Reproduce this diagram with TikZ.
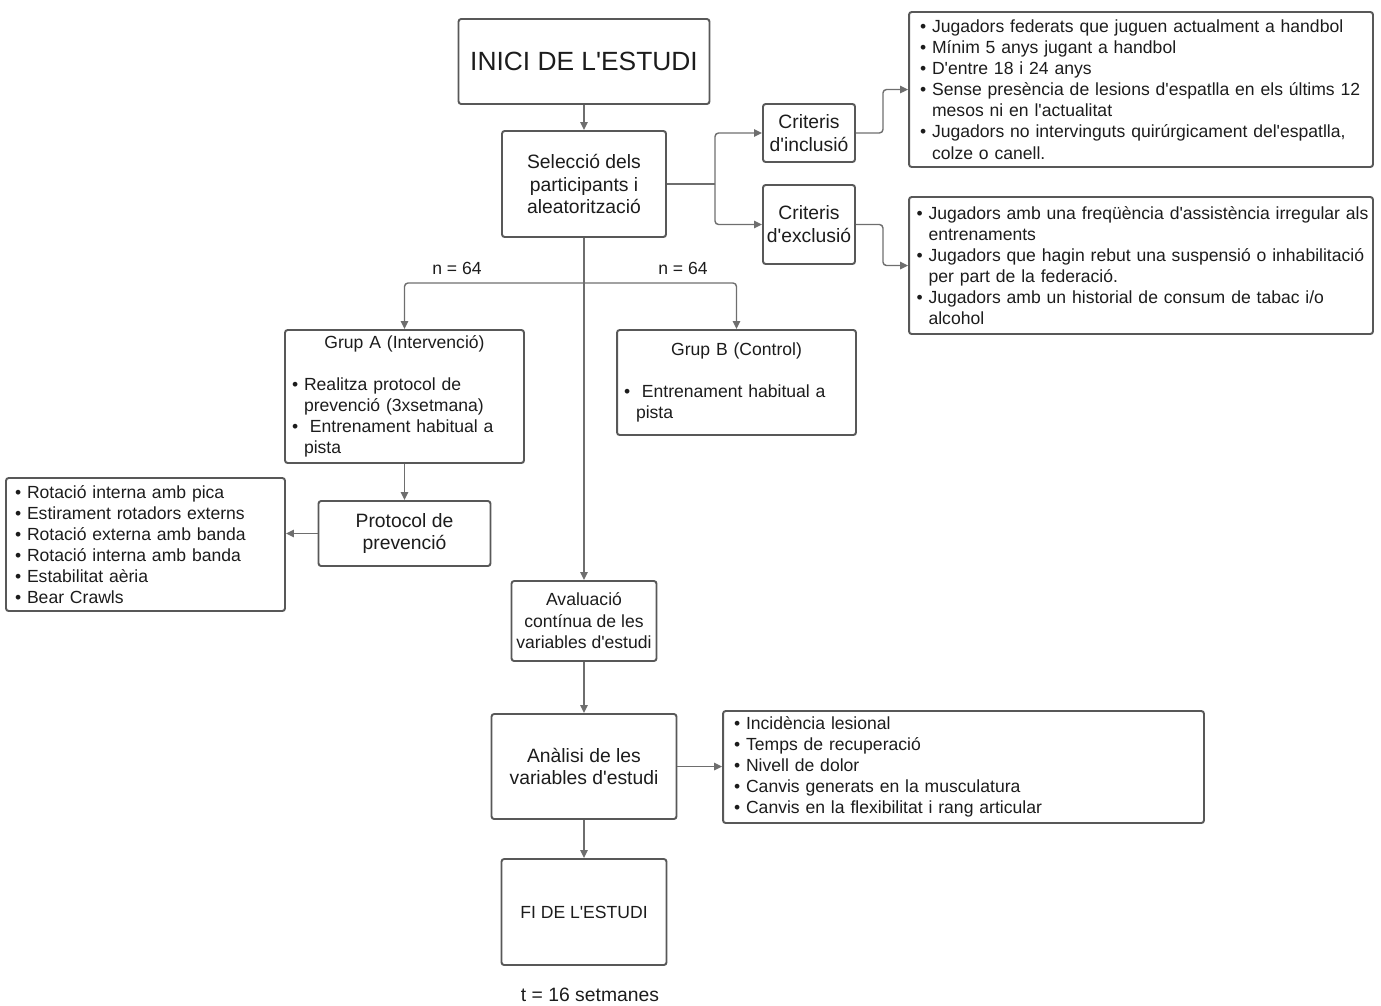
\documentclass[tikz,border=0pt]{standalone}
\usepackage{fontspec}
\setmainfont{Liberation Sans}[Ligatures=TeXOff]
\usetikzlibrary{arrows.meta}
\definecolor{boxgray}{RGB}{88,88,88}
\definecolor{linegray}{RGB}{110,110,110}
\definecolor{txt}{RGB}{28,28,28}
\newcommand{\itm}[1]{\mbox{\textbullet\ #1}}
\newcommand{\cnt}[1]{\mbox{\phantom{\textbullet\ }#1}}
\newcommand{\ttl}[1]{\mbox{}\hfill #1\hfill\mbox{}}

\begin{document}
\begin{tikzpicture}[x=0.02cm,y=-0.02cm,line width=0.8pt,>=Stealth,
  box/.style={draw=boxgray,line width=1.1pt,rounded corners=1.5pt,align=center,
    text=txt,inner sep=0pt,font=\fontsize{11}{13}\selectfont},
  list/.style={box,align=left,inner ysep=0pt,font=\fontsize{10}{12}\selectfont},
  link/.style={->,draw=linegray,line width=0.8pt,rounded corners=2pt,
    >={Triangle[length=4.5pt,width=4.2pt]}}]
\useasboundingbox (0,0) rectangle (1381,1005);
% ---------- main column ----------
\node[box,minimum width=5.02cm,minimum height=1.70cm,font=\fontsize{15}{18}\selectfont]
  (inici) at (584,61.5) {INICI DE L'ESTUDI};
\node[box,minimum width=3.28cm,minimum height=2.12cm] (selec) at (584,184)
  {Selecció dels\\participants i\\aleatorització};
\node[box,minimum width=2.90cm,minimum height=1.60cm,font=\fontsize{10}{12.2}\selectfont]
  (aval) at (584,621) {Avaluació\\contínua de les\\variables d'estudi};
\node[box,minimum width=3.70cm,minimum height=2.10cm] (anal) at (584,766.5)
  {Anàlisi de les\\variables d'estudi};
\node[box,minimum width=3.30cm,minimum height=2.12cm,font=\fontsize{10}{12}\selectfont]
  (fi) at (584,912) {FI DE L'ESTUDI};
\node[text=txt,font=\fontsize{11}{13}\selectfont] (temps) at (590,995) {t = 16 setmanes};
% ---------- criteria ----------
\node[box,minimum width=1.84cm,minimum height=1.16cm] (crinc) at (809,133)
  {Criteris\\d'inclusió};
\node[box,minimum width=1.84cm,minimum height=1.58cm] (crexc) at (809,224.5)
  {Criteris\\d'exclusió};
\node[list,inner xsep=0.22cm,text width=8.84cm,minimum height=3.10cm] (inclist) at (1141,89.5)
  {\itm{Jugadors federats que juguen actualment a handbol}\\
   \itm{Mínim 5 anys jugant a handbol}\\
   \itm{D'entre 18 i 24 anys}\\
   \itm{Sense presència de lesions d'espatlla en els últims 12}\\
   \cnt{mesos ni en l'actualitat}\\
   \itm{Jugadors no intervinguts quirúrgicament del'espatlla,}\\
   \cnt{colze o canell.}};
\node[list,inner xsep=0.15cm,text width=8.98cm,minimum height=2.74cm] (exclist) at (1141,265.5)
  {\itm{Jugadors amb una freqüència d'assistència irregular als}\\
   \cnt{entrenaments}\\
   \itm{Jugadors que hagin rebut una suspensió o inhabilitació}\\
   \cnt{per part de la federació.}\\
   \itm{Jugadors amb un historial de consum de tabac i/o}\\
   \cnt{alcohol}};
% ---------- groups ----------
\node[list,inner xsep=0.14cm,text width=4.50cm,minimum height=2.66cm] (grupA) at (404.5,396.5)
  {\ttl{Grup A (Intervenció)}\\[12pt]
   \itm{Realitza protocol de}\\
   \cnt{prevenció (3xsetmana)}\\
   \itm{\ Entrenament habitual a}\\
   \cnt{pista}};
\node[list,inner xsep=0.14cm,text width=4.50cm,minimum height=2.10cm] (grupB) at (736.5,382.5)
  {\ttl{Grup B (Control)}\\[12pt]
   \itm{\ Entrenament habitual a}\\
   \cnt{pista}};
\node[box,minimum width=3.44cm,minimum height=1.30cm] (prot) at (404.5,533.5)
  {Protocol de\\prevenció};
\node[list,inner xsep=0.18cm,text width=5.22cm,minimum height=2.66cm] (protlist) at (145.5,544.5)
  {\itm{Rotació interna amb pica}\\
   \itm{Estirament rotadors externs}\\
   \itm{Rotació externa amb banda}\\
   \itm{Rotació interna amb banda}\\
   \itm{Estabilitat aèria}\\
   \itm{Bear Crawls}};
\node[list,inner xsep=0.22cm,text width=9.18cm,minimum height=2.24cm] (anlist) at (963.5,767)
  {\itm{Incidència lesional}\\
   \itm{Temps de recuperació}\\
   \itm{Nivell de dolor}\\
   \itm{Canvis generats en la musculatura}\\
   \itm{Canvis en la flexibilitat i rang articular}};
\node[text=txt,font=\fontsize{10}{12}\selectfont] (nA) at (457,268) {n = 64};
\node[text=txt,font=\fontsize{10}{12}\selectfont] (nB) at (683,268) {n = 64};
% ---------- connectors ----------
\coordinate (fork) at (715,184);
\coordinate (split) at (584,283);
\draw[link] (inici) -- (selec);
\draw[draw=linegray] (selec.east) -- (fork);
\draw[link] (fork) |- (crinc.west);
\draw[link] (fork) |- (crexc.west);
\draw[link] (crinc.east) -- ++(27,0) |- (inclist.west);
\draw[link] (crexc.east) -- ++(27,0) |- (exclist.west);
\draw[link] (selec.south) -- (aval.north);
\draw[link] (split) -| (grupA.north);
\draw[link] (split) -| (grupB.north);
\draw[link] (grupA) -- (prot);
\draw[link] (prot.west) -- (prot.west -| protlist.east);
\draw[link] (aval) -- (anal);
\draw[link] (anal.east) -- (anal.east -| anlist.west);
\draw[link] (anal) -- (fi);
\end{tikzpicture}
\end{document}
